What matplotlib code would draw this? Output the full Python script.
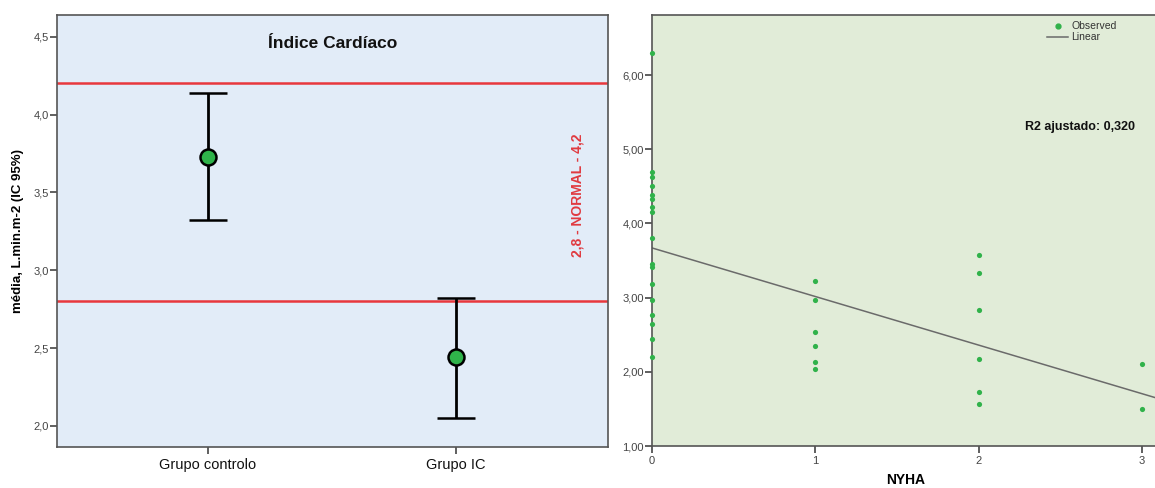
import matplotlib
matplotlib.use("Agg")
import matplotlib.pyplot as plt
from matplotlib.ticker import FuncFormatter
from matplotlib.lines import Line2D

plt.rcParams['font.family'] = ['Liberation Sans', 'DejaVu Sans']

# ---- Left panel data ----
groups = ["Grupo controlo", "Grupo IC"]
means = [3.73, 2.44]
ci_low = [3.32, 2.05]
ci_high = [4.14, 2.82]
normal_low = 2.8
normal_high = 4.2
left_yticks = [2.0, 2.5, 3.0, 3.5, 4.0, 4.5]

# ---- Right panel data (IC by NYHA class) ----
ic0 = [6.30, 4.69, 4.62, 4.51, 4.38, 4.33, 4.22, 4.15, 3.80, 3.46, 3.41,
       3.19, 2.97, 2.76, 2.65, 2.44, 2.20]
ic1 = [3.22, 2.97, 2.54, 2.35, 2.13, 2.04]
ic2 = [3.58, 3.33, 2.84, 2.17, 1.73, 1.57]
ic3 = [2.10, 1.50]
fit_intercept = 3.67
fit_slope = -0.655
r2_adj = "0,320"
right_yticks = [1, 2, 3, 4, 5, 6]
right_xticks = [0, 1, 2, 3]

W, H = 1155, 488
fig = plt.figure(figsize=(W/100, H/100), dpi=100)
fig.patch.set_facecolor('white')

spine_col = '#555555'

# ---------------- Left axes ----------------
ax1 = fig.add_axes([57/W, 1-447/H, (608-57)/W, (447-15)/H])
ax1.set_facecolor('#e2ecf8')
ax1.axhline(normal_high, color='#e8383d', lw=1.8, zorder=2)
ax1.axhline(normal_low, color='#e8383d', lw=1.8, zorder=2)
xpos = list(range(len(groups)))
for i in xpos:
    ax1.errorbar([i], [means[i]],
                 yerr=[[means[i]-ci_low[i]], [ci_high[i]-means[i]]],
                 fmt='o', color='black', ecolor='black', elinewidth=2,
                 capsize=14, capthick=2, markersize=11.5,
                 markerfacecolor='#2fb34a', markeredgecolor='black',
                 markeredgewidth=1.8, zorder=3)
ax1.set_xlim(-0.609, 1.613)
ax1.set_ylim(1.865, 4.64)
ax1.set_xticks(xpos)
ax1.set_xticklabels(groups, fontsize=10.5, color='#111111')
ax1.set_yticks(left_yticks)
ax1.yaxis.set_major_formatter(FuncFormatter(lambda v, p: f"{v:.1f}".replace('.', ',')))
ax1.tick_params(axis='y', labelsize=8, colors='#444444', length=5, width=1.2, direction='out', pad=1)
ax1.tick_params(axis='x', length=5, width=1.2, color='#444444', pad=3)
for s in ax1.spines.values():
    s.set_color(spine_col)
    s.set_linewidth(1.2)
ax1.set_ylabel("média, L.min.m-2 (IC 95%)", fontsize=9.5, fontweight='bold', labelpad=7)
ax1.text(0.5, 0.935, "Índice Cardíaco", transform=ax1.transAxes, ha='center', va='center',
         fontsize=12.5, fontweight='bold', color='#111111')
ax1.text(578/W, 1-195/H, "2,8 - NORMAL - 4,2", transform=fig.transFigure, rotation=90,
         ha='center', va='center', fontsize=10, fontweight='bold', color='#e03a40')

# ---------------- Right axes ----------------
ax2 = fig.add_axes([652/W, 1-446/H, (1160-652)/W, (446-15)/H])
ax2.set_facecolor('#e1ecd8')
xs = [0]*len(ic0) + [1]*len(ic1) + [2]*len(ic2) + [3]*len(ic3)
ys = ic0 + ic1 + ic2 + ic3
ax2.scatter(xs, ys, s=14, color='#30b24a', zorder=3, clip_on=False, linewidths=0)
xl = [0, 3.11]
ax2.plot(xl, [fit_intercept + fit_slope*x for x in xl], color='#6a6a6a', lw=1.1, zorder=2)
ax2.set_xlim(0, 3.11)
ax2.set_ylim(1.0, 6.81)
ax2.set_yticks(right_yticks)
ax2.set_xticks(right_xticks)
ax2.yaxis.set_major_formatter(FuncFormatter(lambda v, p: f"{v:.2f}".replace('.', ',')))
ax2.tick_params(axis='y', labelsize=8, colors='#444444', length=5, width=1.2, pad=1)
ax2.tick_params(axis='x', labelsize=8, colors='#444444', length=5, width=1.2, pad=2)
for s in ax2.spines.values():
    s.set_color(spine_col)
    s.set_linewidth(1.2)
ax2.spines['right'].set_visible(False)
ax2.set_xlabel("NYHA", fontsize=10, fontweight='bold', labelpad=5)
ax2.text(1135/W, 1-127/H, f"R2 ajustado: {r2_adj}", transform=fig.transFigure,
         ha='right', va='center', fontsize=9, fontweight='bold', color='#111111')
handles = [Line2D([], [], marker='o', ls='none', color='#30b24a', markersize=3.5),
           Line2D([], [], color='#6a6a6a', lw=1.1)]
fig.legend(handles, ["Observed", "Linear"], loc='upper left',
           bbox_to_anchor=(1040/W, 1-14/H), frameon=False, fontsize=7.5,
           handlelength=2.0, handletextpad=0.3, labelspacing=0.1, borderpad=0.2,
           labelcolor='#333333')

fig.savefig("out.png", dpi=100, facecolor='white')
